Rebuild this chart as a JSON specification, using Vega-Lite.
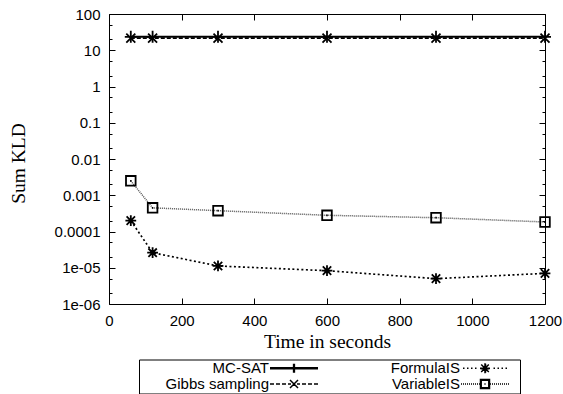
{
  "$schema": "https://vega.github.io/schema/vega-lite/v6.json",
  "width": 436,
  "height": 290,
  "autosize": {"type": "none"},
  "padding": {"left": 109, "top": 14, "right": 18, "bottom": 90},
  "background": "white",
  "config": {"view": {"stroke": null}, "font": "Liberation Sans"},
  "data": {
    "values": [
      {"series": "MC-SAT", "time": 60, "kld": 23.5},
      {"series": "MC-SAT", "time": 120, "kld": 23.5},
      {"series": "MC-SAT", "time": 300, "kld": 23.5},
      {"series": "MC-SAT", "time": 600, "kld": 23.5},
      {"series": "MC-SAT", "time": 900, "kld": 23.5},
      {"series": "MC-SAT", "time": 1200, "kld": 23.5},
      {"series": "Gibbs sampling", "time": 60, "kld": 21.5},
      {"series": "Gibbs sampling", "time": 120, "kld": 21.5},
      {"series": "Gibbs sampling", "time": 300, "kld": 21.5},
      {"series": "Gibbs sampling", "time": 600, "kld": 21.5},
      {"series": "Gibbs sampling", "time": 900, "kld": 21.5},
      {"series": "Gibbs sampling", "time": 1200, "kld": 21.5},
      {"series": "FormulaIS", "time": 60, "kld": 0.0002},
      {"series": "FormulaIS", "time": 120, "kld": 0.000026},
      {"series": "FormulaIS", "time": 300, "kld": 0.0000112},
      {"series": "FormulaIS", "time": 600, "kld": 0.0000083},
      {"series": "FormulaIS", "time": 900, "kld": 0.000005},
      {"series": "FormulaIS", "time": 1200, "kld": 0.000007},
      {"series": "VariableIS", "time": 60, "kld": 0.0025},
      {"series": "VariableIS", "time": 120, "kld": 0.00045},
      {"series": "VariableIS", "time": 300, "kld": 0.000375},
      {"series": "VariableIS", "time": 600, "kld": 0.00028},
      {"series": "VariableIS", "time": 900, "kld": 0.00024},
      {"series": "VariableIS", "time": 1200, "kld": 0.000183}
    ]
  },
  "resolve": {
    "axis": {"x": "independent", "y": "independent"},
    "scale": {"shape": "independent"}
  },
  "layer": [
    {
      "mark": {"type": "line", "clip": false},
      "encoding": {
        "x": {
          "field": "time", "type": "quantitative",
          "scale": {"domain": [0, 1200], "nice": false, "zero": false},
          "axis": {
            "orient": "bottom",
            "values": [0, 200, 400, 600, 800, 1000, 1200],
            "format": "d",
            "tickSize": -6, "tickColor": "black", "tickWidth": 1,
            "domainColor": "black", "domainWidth": 1, "grid": false,
            "labelFont": "Liberation Sans", "labelFontSize": 15, "labelColor": "black",
            "labelPadding": 15.5, "labelFlush": false, "labelOverlap": false, "labelBound": false,
            "title": "Time in seconds", "titleFont": "Liberation Serif", "titleFontSize": 19.5,
            "titleFontWeight": "normal", "titleColor": "black",
            "titleY": 43, "titleBaseline": "alphabetic"
          }
        },
        "y": {
          "field": "kld", "type": "quantitative",
          "scale": {"type": "log", "domain": [0.000001, 100], "nice": false},
          "axis": {
            "orient": "left",
            "values": [0.000001, 0.00001, 0.0001, 0.001, 0.01, 0.1, 1, 10, 100],
            "labelExpr": "datum.value == 1e-5 ? '1e-05' : datum.value == 1e-6 ? '1e-06' : format(datum.value, '~g')",
            "tickSize": -6, "tickColor": "black", "tickWidth": 1,
            "domainColor": "black", "domainWidth": 1, "grid": false,
            "labelFont": "Liberation Sans", "labelFontSize": 15, "labelColor": "black",
            "labelPadding": 15, "labelFlush": false, "labelOverlap": false, "labelBound": false,
            "title": "Sum KLD", "titleFont": "Liberation Serif", "titleFontSize": 19.5,
            "titleFontWeight": "normal", "titleColor": "black",
            "titleX": -84.5, "titleY": 149, "titleBaseline": "alphabetic", "titleAngle": 270
          }
        },
        "detail": {"field": "series"},
        "strokeDash": {
          "field": "series",
          "scale": {"domain": ["MC-SAT", "Gibbs sampling", "FormulaIS", "VariableIS"], "range": [[1, 0], [4, 2], [2, 2.5], [1, 1]]},
          "legend": null
        },
        "color": {
          "field": "series",
          "scale": {"domain": ["MC-SAT", "Gibbs sampling", "FormulaIS", "VariableIS"], "range": ["#000000", "#000000", "#000000", "#555555"]},
          "legend": null
        },
        "strokeWidth": {
          "field": "series",
          "scale": {"domain": ["MC-SAT", "Gibbs sampling", "FormulaIS", "VariableIS"], "range": [2, 1.5, 2, 1.2]},
          "legend": null
        }
      }
    },
    {
      "mark": {"type": "point", "filled": false, "stroke": "black", "strokeWidth": 1.8, "size": 144, "opacity": 1, "clip": false},
      "encoding": {
        "x": {
          "field": "time", "type": "quantitative",
          "scale": {"domain": [0, 1200], "nice": false, "zero": false},
          "axis": {
            "orient": "top", "values": [0, 200, 400, 600, 800, 1000, 1200],
            "labels": false, "title": null, "tickSize": -6, "tickColor": "black",
            "domainColor": "black", "domainWidth": 1, "grid": false
          }
        },
        "y": {
          "field": "kld", "type": "quantitative",
          "scale": {"type": "log", "domain": [0.000001, 100], "nice": false},
          "axis": {
            "orient": "right",
            "values": [0.000001, 0.00001, 0.0001, 0.001, 0.01, 0.1, 1, 10, 100],
            "labels": false, "title": null, "tickSize": -6, "tickColor": "black",
            "domainColor": "black", "domainWidth": 1, "grid": false
          }
        },
        "shape": {
          "field": "series",
          "scale": {
            "domain": ["MC-SAT", "Gibbs sampling", "FormulaIS", "VariableIS"],
            "range": [
              "M-1,0H1M0,-1V1",
              "M-0.75,-0.75L0.75,0.75M-0.75,0.75L0.75,-0.75",
              "M-0.9,0H0.9M0,-0.9V0.9M-0.7,-0.7L0.7,0.7M-0.7,0.7L0.7,-0.7",
              "M-0.8,-0.8H0.8V0.8H-0.8ZM-0.12,0H0.12"
            ]
          },
          "legend": null
        }
      }
    },
    {
      "mark": {"type": "point", "filled": false, "opacity": 0},
      "encoding": {
        "x": {"field": "time", "type": "quantitative", "scale": {"domain": [0, 1200], "nice": false, "zero": false}, "axis": null},
        "y": {
          "field": "kld", "type": "quantitative",
          "scale": {"type": "log", "domain": [0.000001, 100], "nice": false},
          "axis": {
            "orient": "left",
            "values": [0.000002, 0.000005, 0.00002, 0.00005, 0.0002, 0.0005, 0.002, 0.005, 0.02, 0.05, 0.2, 0.5, 2, 5, 20, 50],
            "labels": false, "title": null, "domain": false, "tickSize": -3, "tickColor": "black", "grid": false
          }
        },
        "shape": {
          "field": "series",
          "scale": {
            "domain": ["MC-SAT", "Gibbs sampling", "FormulaIS", "VariableIS"],
            "range": [
              "M-24,-0.4H24M-24,0.4H24M-0.4,-4.5V4.5M0.4,-4.5V4.5M31,0",
              "M-24,0h4M-18,0h4M-12,0h4M-6,0h3M3,0h3M8,0h4M14,0h4M20,0h4M-4,-4L4,4M-4,4L4,-4M31,0",
              "M-22,0h1.5M-18,0h1.5M-14,0h1.5M-10,0h1.5M8.5,0h1.5M12.5,0h1.5M16.5,0h1.5M20.5,0h1.5M-5,0H5M0,-5V5M-3.8,-3.8L3.8,3.8M-3.8,3.8L3.8,-3.8M-4.5,0.5H4.5M0.5,-4.5V4.5M31,0",
              "M-24,0h1M-22,0h1M-20,0h1M-18,0h1M-16,0h1M-14,0h1M-12,0h1M-10,0h1M-8,0h1M-6,0h1M5,0h1M7,0h1M9,0h1M11,0h1M13,0h1M15,0h1M17,0h1M19,0h1M21,0h1M23,0h1M-4.5,-4.5H4.5V4.5H-4.5ZM-3.8,-3.8H3.8V3.8H-3.8ZM-0.6,0H0.6M31,0"
            ]
          },
          "legend": {
            "orient": "none", "legendX": 30, "legendY": 345.5,
            "title": null, "columns": 2,
            "symbolSize": 4, "symbolStrokeWidth": 1.5, "symbolStrokeColor": "black",
            "symbolFillColor": "transparent", "symbolOpacity": 1,
            "symbolOffset": 146.5, "labelOffset": -32.5, "labelAlign": "right",
            "labelFont": "Liberation Sans", "labelFontSize": 15, "labelColor": "black", "labelLimit": 400,
            "columnPadding": 3, "rowPadding": 0,
            "strokeColor": "black", "padding": 1, "fillColor": "white"
          }
        }
      }
    },
    {
      "mark": {"type": "point", "opacity": 0},
      "encoding": {
        "x": {"field": "time", "type": "quantitative", "scale": {"domain": [0, 1200], "nice": false, "zero": false}, "axis": null},
        "y": {
          "field": "kld", "type": "quantitative",
          "scale": {"type": "log", "domain": [0.000001, 100], "nice": false},
          "axis": {
            "orient": "right",
            "values": [0.000002, 0.000005, 0.00002, 0.00005, 0.0002, 0.0005, 0.002, 0.005, 0.02, 0.05, 0.2, 0.5, 2, 5, 20, 50],
            "labels": false, "title": null, "domain": false, "tickSize": -3, "tickColor": "black", "grid": false
          }
        }
      }
    }
  ]
}
